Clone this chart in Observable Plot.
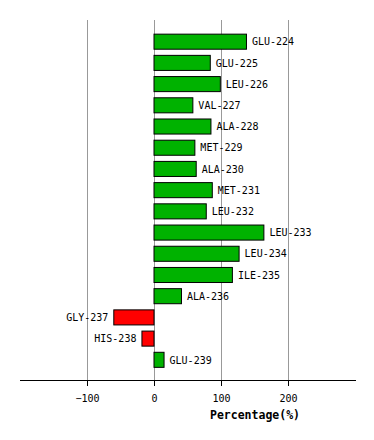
<!DOCTYPE html>
<html>
<head>
<meta charset="utf-8">
<script src="https://cdn.jsdelivr.net/npm/d3@7"></script>
<script src="https://cdn.jsdelivr.net/npm/@observablehq/plot@0.6"></script>
<style>
  html, body { margin: 0; padding: 0; background: white; }
</style>
</head>
<body>
<div id="chart"></div>
<script>
const residues = ["GLU-224","GLU-225","LEU-226","VAL-227","ALA-228","MET-229","ALA-230","MET-231","LEU-232","LEU-233","LEU-234","ILE-235","ALA-236","GLY-237","HIS-238","GLU-239"];
const values = [138, 84, 99, 58, 85, 61, 63, 87, 78, 164, 127, 117, 41, -60, -18, 15];
const xTicks = [-100, 0, 100, 200];
const xLabel = "Percentage(%)";

const data = residues.map((r, i) => ({residue: r, value: values[i]}));

const chart = Plot.plot({
  width: 374,
  height: 440,
  marginTop: 20,
  marginBottom: 60,
  marginLeft: 20,
  marginRight: 19,
  style: {fontFamily: "DejaVu Sans Mono", fontSize: "10px", background: "white", color: "black"},
  x: {domain: [-200, 300], ticks: xTicks, line: true, label: null, tickSize: 6, tickPadding: 8},
  y: {domain: residues, axis: null, padding: 0.29, round: false, insetTop: 8, insetBottom: 6.5},
  marks: [
    Plot.ruleX(xTicks, {stroke: "#999999", strokeWidth: 1}),
    Plot.barX(data, {x: "value", y: "residue", fill: d => d.value >= 0 ? "#00b200" : "#ff0000", stroke: "black", strokeWidth: 1}),
    Plot.text(data.filter(d => d.value >= 0), {x: "value", y: "residue", text: "residue", textAnchor: "start", dx: 5, fill: "black"}),
    Plot.text(data.filter(d => d.value < 0), {x: "value", y: "residue", text: "residue", textAnchor: "end", dx: -6, fill: "black"}),
    Plot.text([xLabel], {x: 150, frameAnchor: "bottom", lineAnchor: "middle", dy: 35, text: d => d, fontWeight: "bold", fontSize: 11.5, fill: "black"})
  ]
});
document.getElementById("chart").appendChild(chart);
</script>
</body>
</html>
